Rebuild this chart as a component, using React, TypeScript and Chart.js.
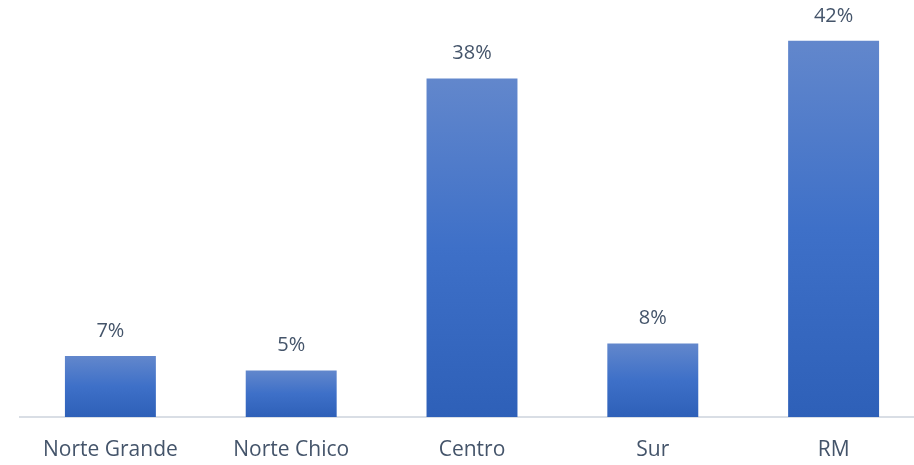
import React, { useEffect, useRef } from "react";
import { Chart, registerables } from "chart.js";

Chart.register(...registerables);

const categories = ["Norte Grande", "Norte Chico", "Centro", "Sur", "RM"];
const shares = [6.8, 5.2, 37.8, 8.2, 42.0];
const shareLabels = ["7%", "5%", "38%", "8%", "42%"];

const TEXT = "#44546A";
const FONT = "'Open Sans', 'Liberation Sans', sans-serif";

const labelPlugin = {
  id: "barLabels",
  afterDatasetsDraw(chart: any) {
    const ctx = chart.ctx;
    const meta = chart.getDatasetMeta(0);
    ctx.save();
    ctx.fillStyle = TEXT;
    ctx.font = `20px ${FONT}`;
    ctx.textAlign = "center";
    ctx.textBaseline = "middle";
    meta.data.forEach((el: any, i: number) => {
      ctx.fillText(shareLabels[i], el.x, el.y - 25);
    });
    ctx.restore();
  },
};

export default function App() {
  const ref = useRef<HTMLCanvasElement | null>(null);
  useEffect(() => {
    if (!ref.current) return;
    const chart = new Chart(ref.current, {
      type: "bar",
      data: {
        labels: categories,
        datasets: [
          {
            data: shares,
            backgroundColor: (c: any) => {
              const ch = c.chart;
              const y = ch.scales?.y;
              if (!y || c.raw == null) return "#4472C4";
              const top = y.getPixelForValue(c.raw);
              const base = y.getPixelForValue(0);
              if (!isFinite(top) || !isFinite(base) || top === base) return "#4472C4";
              const g = ch.ctx.createLinearGradient(0, top, 0, base);
              g.addColorStop(0, "#6287CC");
              g.addColorStop(0.5, "#3E70C8");
              g.addColorStop(1, "#2E60B8");
              return g;
            },
            borderWidth: 0,
            barPercentage: 1,
            categoryPercentage: 0.503,
          },
        ],
      },
      options: {
        responsive: false,
        animation: false,
        layout: { padding: { left: 20, right: 6, top: 14, bottom: 3 } },
        plugins: { legend: { display: false }, tooltip: { enabled: false } },
        scales: {
          x: {
            grid: { display: false, drawTicks: false },
            border: { display: true, color: "#D9DEE5", width: 2 },
            ticks: { color: TEXT, font: { family: FONT, size: 21 }, padding: 20, maxRotation: 0 },
            afterFit: (s: any) => {
              s.height = 45;
            },
          },
          y: {
            display: false,
            min: 0,
            max: 45,
          },
        },
      },
      plugins: [labelPlugin],
    });
    return () => chart.destroy();
  }, []);
  return (
    <div style={{ position: "fixed", left: 0, top: 0, width: 914, height: 465, overflow: "hidden", background: "#fff" }}>
      <canvas ref={ref} width={930} height={465} style={{ width: 930, height: 465, display: "block" }} />
    </div>
  );
}
